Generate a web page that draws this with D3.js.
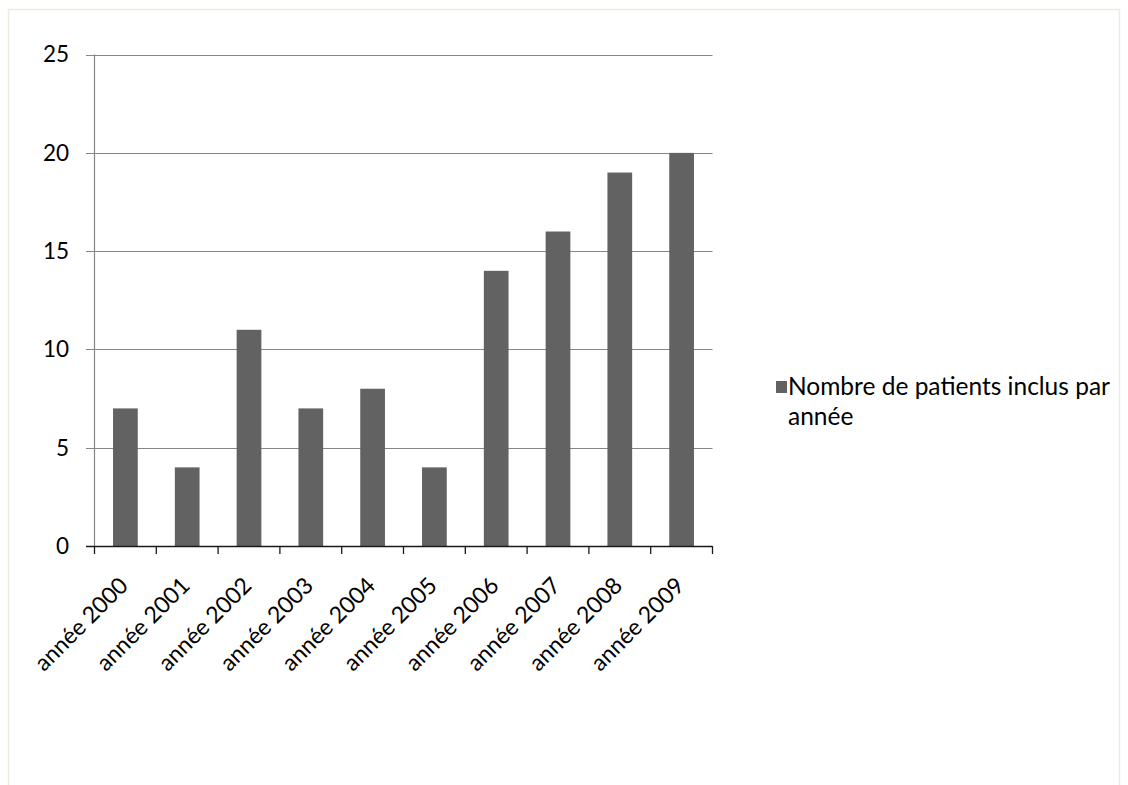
<!DOCTYPE html>
<html><head><meta charset="utf-8">
<script src="https://cdn.jsdelivr.net/npm/d3@7"></script>
<style>body{margin:0;background:#fff}svg{display:block}</style>
</head><body>
<svg id="c" width="1128" height="785"></svg>
<script>
const categories = ["année 2000","année 2001","année 2002","année 2003","année 2004","année 2005","année 2006","année 2007","année 2008","année 2009"];
const values = [7,4,11,7,8,4,14,16,19,20];
const yTicks = [0,5,10,15,20,25];
const seriesName = ["Nombre de patients inclus par","année"];

const svg = d3.select("#c");
const font = "Lato, 'Open Sans', sans-serif";
const fsAxis = 22.5, fsCat = 23, fsLegend = 24.5;

svg.append("rect").attr("x",8.5).attr("y",9.5).attr("width",1111).attr("height",900)
  .attr("fill","#fff").attr("stroke","#ebeadf").attr("stroke-width",1.5);

const x = d3.scaleBand().domain(categories).range([94.5,712.5]).paddingInner(0.6).paddingOuter(0.3);
const y = d3.scaleLinear().domain([0,25]).range([546,54.6]);

// gridlines
svg.append("g").selectAll("line").data(yTicks.filter(d=>d>0)).join("line")
  .attr("x1",86).attr("x2",712.5).attr("y1",d=>Math.round(y(d))+0.5).attr("y2",d=>Math.round(y(d))+0.5)
  .attr("stroke","#868686").attr("stroke-width",1.2);

// y axis line
svg.append("line").attr("x1",94.5).attr("x2",94.5).attr("y1",y(25)).attr("y2",y(0))
  .attr("stroke","#868686").attr("stroke-width",1.2);

// y labels
svg.append("g").selectAll("text").data(yTicks).join("text")
  .attr("x",69).attr("y",d=>y(d)).attr("dy","0.35em").attr("text-anchor","end")
  .attr("font-family",font).attr("font-size",fsAxis).attr("fill","#000").text(d=>d);

// bars
svg.append("g").selectAll("rect").data(values).join("rect")
  .attr("x",(d,i)=>x(categories[i])).attr("width",x.bandwidth())
  .attr("y",d=>y(d)).attr("height",d=>y(0)-y(d)).attr("fill","#626262");

// x axis
const xa = svg.append("g");
xa.append("line").attr("x1",86).attr("x2",712.5).attr("y1",546.5).attr("y2",546.5).attr("stroke","#1a1a1a").attr("stroke-width",1.3);
const bounds = categories.map(c=>x(c)-x.step()*x.paddingInner()/2).concat([712.5]);
bounds[0]=94.5;
xa.selectAll("line.t").data(bounds).join("line").attr("class","t")
  .attr("x1",d=>d).attr("x2",d=>d).attr("y1",546).attr("y2",554).attr("stroke","#1a1a1a").attr("stroke-width",1.3);
xa.selectAll("text").data(categories).join("text")
  .attr("transform",d=>`translate(${x(d)+x.bandwidth()/2+4},587) rotate(-45)`)
  .attr("text-anchor","end").attr("font-family",font).attr("font-size",fsCat).attr("fill","#000").text(d=>d);

// legend
const lg = svg.append("g");
lg.append("rect").attr("x",776).attr("y",381).attr("width",11).attr("height",12).attr("fill","#626262");
lg.selectAll("text").data(seriesName).join("text")
  .attr("x",788).attr("y",(d,i)=>395+i*30).attr("font-family",font).attr("font-size",fsLegend).attr("fill","#000").text(d=>d);
</script>
</body></html>
